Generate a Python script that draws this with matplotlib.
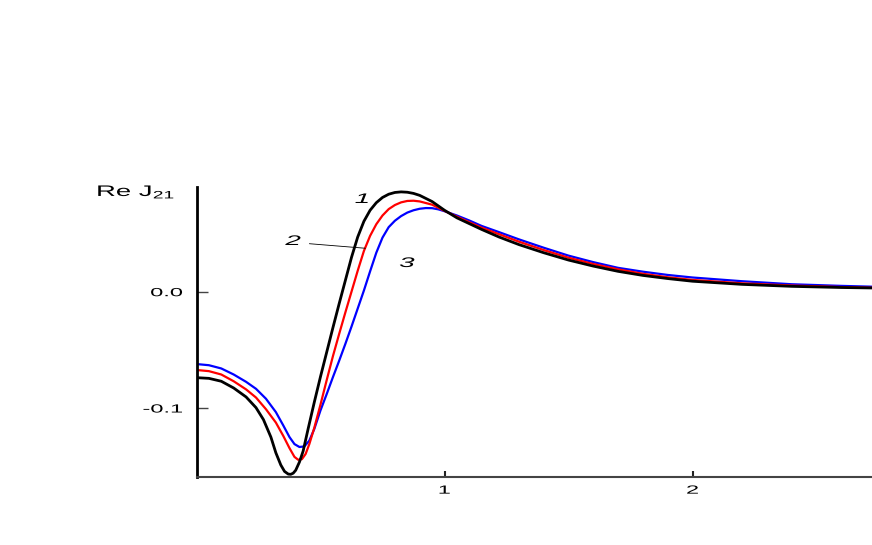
import matplotlib
matplotlib.use("Agg")
import matplotlib.pyplot as plt
from matplotlib.patheffects import AbstractPathEffect
from matplotlib.transforms import Affine2D

plt.rcParams['font.family'] = ['Liberation Sans', 'DejaVu Sans']
plt.rcParams['mathtext.default'] = 'regular'

# Curve 1 (black)
x1 = [0.00, 0.05, 0.10, 0.15, 0.20, 0.24, 0.27, 0.30, 0.32, 0.34, 0.355, 0.37, 0.38,
      0.39, 0.40, 0.415, 0.43, 0.45, 0.475, 0.50, 0.525, 0.55, 0.575, 0.60, 0.625, 0.65,
      0.675, 0.70, 0.725, 0.75, 0.775, 0.80, 0.825, 0.85, 0.875, 0.90, 0.95, 1.00, 1.05,
      1.10, 1.15, 1.22, 1.30, 1.40, 1.50, 1.60, 1.70, 1.80, 1.90, 2.00, 2.20, 2.40, 2.60,
      2.724]
y1 = [-0.0739, -0.0745, -0.0770, -0.0828, -0.0905, -0.0997, -0.1100, -0.1250, -0.1385,
      -0.1490, -0.1545, -0.1568, -0.1570, -0.1560, -0.1535, -0.1465, -0.1370, -0.1180,
      -0.0950, -0.0730, -0.0520, -0.0310, -0.0105, 0.0095, 0.0295, 0.0470, 0.0605, 0.0700,
      0.0765, 0.0810, 0.0838, 0.0853, 0.0858, 0.0855, 0.0845, 0.0828, 0.0775, 0.0700,
      0.0635, 0.0585, 0.0535, 0.0470, 0.0405, 0.0335, 0.0272, 0.0220, 0.0175, 0.0140,
      0.0113, 0.0090, 0.0063, 0.0046, 0.0036, 0.0032]

# Curve 2 (red)
x2 = [0.00, 0.05, 0.10, 0.15, 0.20, 0.24, 0.28, 0.32, 0.35, 0.375, 0.395, 0.41, 0.425,
      0.44, 0.455, 0.475, 0.50, 0.525, 0.55, 0.575, 0.60, 0.625, 0.65, 0.675, 0.70, 0.725,
      0.75, 0.775, 0.80, 0.825, 0.85, 0.875, 0.90, 0.95, 1.00, 1.05, 1.10, 1.15, 1.22,
      1.30, 1.40, 1.50, 1.60, 1.70, 1.80, 1.90, 2.00, 2.20, 2.40, 2.60, 2.724]
y2 = [-0.0673, -0.0683, -0.0712, -0.0770, -0.0840, -0.0910, -0.1010, -0.1125, -0.1240,
      -0.1345, -0.1420, -0.1445, -0.1440, -0.1395, -0.1310, -0.1170, -0.0970, -0.0760,
      -0.0555, -0.0365, -0.0180, 0.0000, 0.0180, 0.0350, 0.0480, 0.0580, 0.0655, 0.0710,
      0.0745, 0.0768, 0.0780, 0.0782, 0.0776, 0.0748, 0.0695, 0.0645, 0.0597, 0.0550,
      0.0494, 0.0430, 0.0358, 0.0292, 0.0238, 0.0192, 0.0154, 0.0124, 0.0101, 0.0072,
      0.0053, 0.0040, 0.0034]

# Curve 3 (blue)
x3 = [0.00, 0.05, 0.10, 0.15, 0.20, 0.24, 0.28, 0.32, 0.35, 0.375, 0.395, 0.415, 0.435,
      0.455, 0.475, 0.50, 0.525, 0.55, 0.575, 0.60, 0.625, 0.65, 0.675, 0.70, 0.725, 0.75,
      0.775, 0.80, 0.825, 0.85, 0.875, 0.90, 0.925, 0.95, 0.975, 1.00, 1.05, 1.10, 1.15,
      1.22, 1.30, 1.40, 1.50, 1.60, 1.70, 1.80, 1.90, 2.00, 2.20, 2.40, 2.60, 2.724]
y3 = [-0.0622, -0.0632, -0.0660, -0.0712, -0.0775, -0.0835, -0.0920, -0.1035, -0.1150,
      -0.1250, -0.1310, -0.1335, -0.1330, -0.1280, -0.1180, -0.1020, -0.0880, -0.0735,
      -0.0595, -0.0450, -0.0300, -0.0145, 0.0010, 0.0175, 0.0335, 0.0465, 0.0555, 0.0610,
      0.0650, 0.0680, 0.0700, 0.0713, 0.0719, 0.0718, 0.0708, 0.0692, 0.0655, 0.0612,
      0.0565, 0.0512, 0.0450, 0.0378, 0.0310, 0.0254, 0.0205, 0.0172, 0.0144, 0.0122,
      0.0090, 0.0064, 0.0050, 0.0043]

yticks = [-0.1, 0.0]
ytick_labels = ['-0.1', '0.0']
xticks = [1, 2]
xtick_labels = ['1', '2']
curve_labels = ['1', '2', '3']
y_label = 'Re J$_{21}$'


class Stretch(AbstractPathEffect):
    """Widen glyphs horizontally (the reference uses a wide sans font)."""

    def __init__(self, sx, anchor='left'):
        super().__init__()
        self.sx = sx
        self.anchor = anchor

    def draw_path(self, renderer, gc, tpath, affine, rgbFace=None):
        ext = tpath.get_extents()
        if self.anchor == 'right':
            x0 = ext.x1
        elif self.anchor == 'center':
            x0 = 0.5 * (ext.x0 + ext.x1)
        else:
            x0 = 0.0
        t = Affine2D().translate(-x0, 0).scale(self.sx, 1.0).translate(x0, 0) + affine
        renderer.draw_path(gc, tpath, t, rgbFace)


fig = plt.figure(figsize=(8.72, 5.45), dpi=100)
ax = fig.add_axes([196.5 / 872, 68 / 545, 1 - 196.5 / 872, (477 - 187) / 545])

ax.plot(x1, y1, color='black', lw=2.0, solid_joinstyle='round', solid_capstyle='round', zorder=3)
ax.plot(x2, y2, color='#ff0000', lw=1.6, solid_joinstyle='round', zorder=2)
ax.plot(x3, y3, color='#0000ff', lw=1.6, solid_joinstyle='round', zorder=1)

ax.set_xlim(0, (872 - 196.5) / 248)
ax.set_ylim(-0.1593, 0.090)

for s in ['top', 'right']:
    ax.spines[s].set_visible(False)
ax.spines['left'].set_linewidth(2.0)
ax.spines['left'].set_color('black')
ax.spines['bottom'].set_linewidth(1.5)
ax.spines['bottom'].set_color('#444444')

ax.set_yticks(yticks)
ax.set_yticklabels(ytick_labels)
ax.set_xticks(xticks)
ax.set_xticklabels(xtick_labels)
ax.tick_params(axis='y', direction='in', length=8, width=1.0, color='#444444',
               pad=10, labelsize=8.5)
ax.tick_params(axis='x', direction='in', length=4, width=1.5, color='#222222',
               pad=5.5, labelsize=8.5)

for t in ax.yaxis.get_major_ticks():
    t.label1.set_path_effects([Stretch(2.0, 'right')])
for t in ax.xaxis.get_major_ticks():
    t.label1.set_path_effects([Stretch(2.0, 'center')])

fig.text(96 / 872, 1 - 196 / 545, y_label, fontsize=11, ha='left', va='baseline',
         path_effects=[Stretch(1.8, 'left')])

# curve numbers
label_pos = [(362, 199), (293, 241), (407, 263)]
for lab, (px, py) in zip(curve_labels, label_pos):
    fig.text(px / 872, 1 - py / 545, lab, fontsize=10, style='italic',
             ha='center', va='center', path_effects=[Stretch(2.0, 'center')])

# leader line for label 2
ax.annotate('', xy=(0.692, (291.7 - 248.5) / 1163), xytext=(0.444, (291.7 - 243.5) / 1163),
            arrowprops=dict(arrowstyle='-', lw=0.6, color='black'))

fig.savefig('out.png', dpi=100)
